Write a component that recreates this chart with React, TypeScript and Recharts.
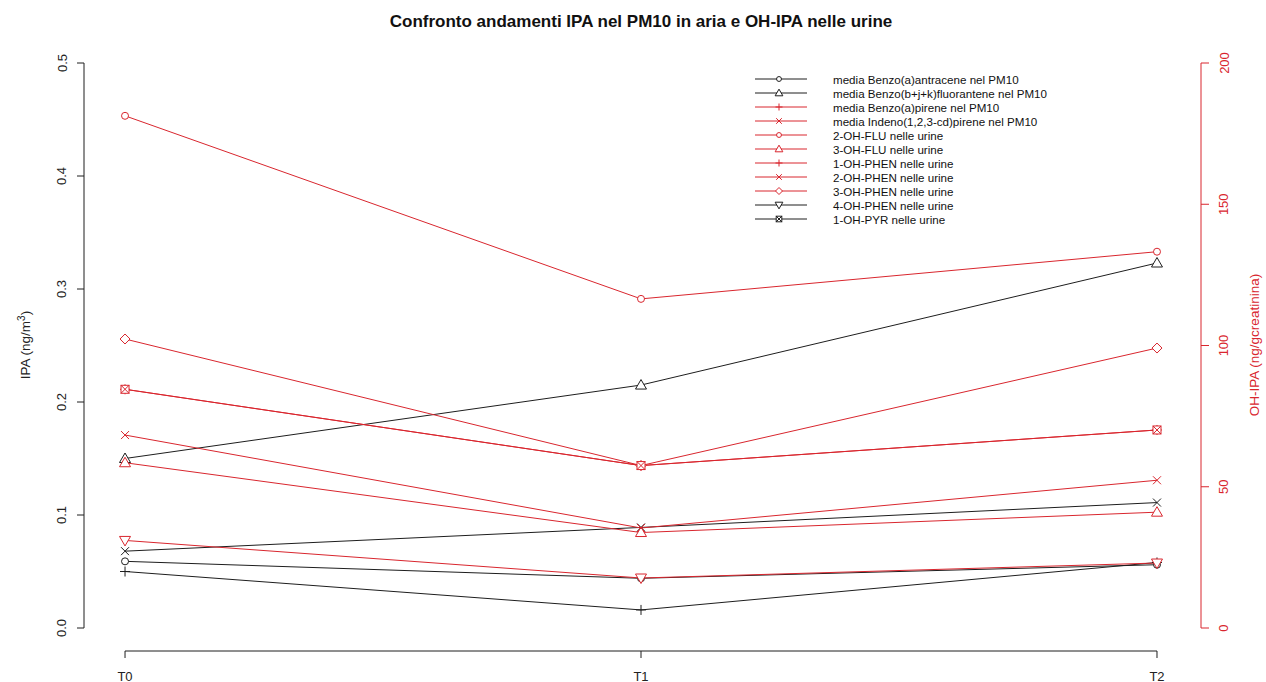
import React from "react";
import { LineChart, Line, XAxis, YAxis, ReferenceLine } from "recharts";

// time points
const T_LABELS = ["T0", "T1", "T2"];

// IPA in PM10 (left axis, ng/m3)
const benzoAntracene = [0.059, 0.044, 0.056];
const benzoFluorantene = [0.15, 0.215, 0.323];
const benzoPirene = [0.05, 0.016, 0.058];
const indenoPirene = [0.068, 0.089, 0.111];

// OH-IPA in urine (right axis, ng/g creatinina)
const ohFlu2 = [181.3, 116.5, 133.2];
const ohFlu3 = [58.5, 33.8, 41];
const ohPhen1 = [84.5, 57.5, 70.1];
const ohPhen2 = [68.3, 35.4, 52.3];
const ohPhen3 = [102.3, 57.5, 99.1];
const ohPhen4 = [31, 17.7, 23];
const ohPyr1 = [84.5, 57.5, 70.1];

const LEFT_TICKS = [0, 0.1, 0.2, 0.3, 0.4, 0.5];
const RIGHT_TICKS = [0, 50, 100, 150, 200];

const RED = "#d9262e";
const BLACK = "#1e1e1e";
const FONT = "'Liberation Sans', Arial, sans-serif";

// plot geometry (R-style detached axes)
const X_MIN = -0.0795;
const X_MAX = 2.0853;
const L_MIN = -0.02035;
const R_MIN = -8.14;

type Shape = "circle" | "triangle" | "plus" | "cross" | "diamond" | "down" | "square";

const series: {
  key: string;
  name: string;
  values: number[];
  axis: "left" | "right";
  color: string;
  shape: Shape;
  legendColor: string;
  legendShape: Shape;
}[] = [
  { key: "bAnt", name: "media Benzo(a)antracene nel PM10", values: benzoAntracene, axis: "left", color: BLACK, shape: "circle", legendColor: BLACK, legendShape: "circle" },
  { key: "bFlu", name: "media Benzo(b+j+k)fluorantene nel PM10", values: benzoFluorantene, axis: "left", color: BLACK, shape: "triangle", legendColor: BLACK, legendShape: "triangle" },
  { key: "bPir", name: "media Benzo(a)pirene nel PM10", values: benzoPirene, axis: "left", color: BLACK, shape: "plus", legendColor: RED, legendShape: "plus" },
  { key: "iPir", name: "media Indeno(1,2,3-cd)pirene nel PM10", values: indenoPirene, axis: "left", color: BLACK, shape: "cross", legendColor: RED, legendShape: "cross" },
  { key: "flu2", name: "2-OH-FLU nelle urine", values: ohFlu2, axis: "right", color: RED, shape: "circle", legendColor: RED, legendShape: "circle" },
  { key: "flu3", name: "3-OH-FLU nelle urine", values: ohFlu3, axis: "right", color: RED, shape: "triangle", legendColor: RED, legendShape: "triangle" },
  { key: "phen1", name: "1-OH-PHEN nelle urine", values: ohPhen1, axis: "right", color: RED, shape: "plus", legendColor: RED, legendShape: "plus" },
  { key: "phen2", name: "2-OH-PHEN nelle urine", values: ohPhen2, axis: "right", color: RED, shape: "cross", legendColor: RED, legendShape: "cross" },
  { key: "phen3", name: "3-OH-PHEN nelle urine", values: ohPhen3, axis: "right", color: RED, shape: "diamond", legendColor: RED, legendShape: "diamond" },
  { key: "phen4", name: "4-OH-PHEN nelle urine", values: ohPhen4, axis: "right", color: RED, shape: "down", legendColor: BLACK, legendShape: "down" },
  { key: "pyr1", name: "1-OH-PYR nelle urine", values: ohPyr1, axis: "right", color: RED, shape: "square", legendColor: BLACK, legendShape: "square" },
];

const data = T_LABELS.map((t, i) => {
  const row: Record<string, number | string> = { x: i, t };
  series.forEach((s) => (row[s.key] = s.values[i]));
  return row;
});

function Marker({ cx, cy, color, shape, s = 1 }: { cx: number; cy: number; color: string; shape: Shape; s?: number }) {
  const p = { fill: "white", stroke: color, strokeWidth: 1 };
  switch (shape) {
    case "circle":
      return <circle cx={cx} cy={cy} r={3.5 * s} {...p} />;
    case "triangle":
      return <polygon points={`${cx},${cy - 5.5 * s} ${cx - 5.5 * s},${cy + 4 * s} ${cx + 5.5 * s},${cy + 4 * s}`} {...p} />;
    case "down":
      return <polygon points={`${cx},${cy + 5.5 * s} ${cx - 5.5 * s},${cy - 4 * s} ${cx + 5.5 * s},${cy - 4 * s}`} {...p} />;
    case "diamond":
      return <polygon points={`${cx},${cy - 5 * s} ${cx + 5 * s},${cy} ${cx},${cy + 5 * s} ${cx - 5 * s},${cy}`} {...p} />;
    case "plus":
      return (
        <path d={`M${cx - 5 * s},${cy}H${cx + 5 * s}M${cx},${cy - 5 * s}V${cy + 5 * s}`} stroke={color} strokeWidth={1} fill="none" />
      );
    case "cross":
      return (
        <path
          d={`M${cx - 4 * s},${cy - 4 * s}L${cx + 4 * s},${cy + 4 * s}M${cx - 4 * s},${cy + 4 * s}L${cx + 4 * s},${cy - 4 * s}`}
          stroke={color}
          strokeWidth={1}
          fill="none"
        />
      );
    case "square":
      return (
        <g>
          <rect x={cx - 4 * s} y={cy - 4 * s} width={8 * s} height={8 * s} {...p} />
          <path
            d={`M${cx - 4 * s},${cy - 4 * s}L${cx + 4 * s},${cy + 4 * s}M${cx - 4 * s},${cy + 4 * s}L${cx + 4 * s},${cy - 4 * s}`}
            stroke={color}
            strokeWidth={1}
          />
        </g>
      );
  }
  return null;
}

const LeftTick = (props: any) => (
  <text
    x={62}
    y={props.y}
    transform={`rotate(-90, 62, ${props.y})`}
    textAnchor="middle"
    dominantBaseline="central"
    fontSize={13}
    fontFamily={FONT}
    fill="#222"
  >
    {props.payload.value.toFixed(1)}
  </text>
);

const RightTick = (props: any) => (
  <text
    x={1224}
    y={props.y}
    transform={`rotate(-90, 1224, ${props.y})`}
    textAnchor="middle"
    dominantBaseline="central"
    fontSize={13}
    fontFamily={FONT}
    fill={RED}
  >
    {props.payload.value}
  </text>
);

const XTick = (props: any) => (
  <text x={props.x} y={676} textAnchor="middle" dominantBaseline="central" fontSize={13} fontFamily={FONT} fill="#222">
    {T_LABELS[props.payload.value]}
  </text>
);

function LegendBox() {
  return (
    <svg width={320} height={160} style={{ position: "absolute", left: 740, top: 70 }}>
      {series.map((s, i) => {
        const y = 9 + i * 14;
        return (
          <g key={s.key}>
            <line x1={15} x2={67} y1={y} y2={y} stroke={s.legendColor} strokeWidth={1} />
            <Marker cx={39} cy={y} color={s.legendColor} shape={s.legendShape} s={0.7} />
            <text x={93} y={y} dominantBaseline="central" fontSize={11.6} fontFamily={FONT} fill="#111">
              {s.name}
            </text>
          </g>
        );
      })}
    </svg>
  );
}

export default function App() {
  return (
    <div style={{ position: "relative", width: 1266, height: 682, background: "white", overflow: "hidden" }}>
      <style>{"body{margin:0;overflow:hidden;}"}</style>
      <div
        style={{
          position: "absolute",
          top: 22,
          left: 641,
          transform: "translate(-50%, -50%)",
          whiteSpace: "nowrap",
          fontFamily: FONT,
          fontWeight: "bold",
          fontSize: 17,
          color: "#111",
        }}
      >
        Confronto andamenti IPA nel PM10 in aria e OH-IPA nelle urine
      </div>
      <div
        style={{
          position: "absolute",
          left: 26,
          top: 345,
          transform: "translate(-50%, -50%) rotate(-90deg)",
          whiteSpace: "nowrap",
          fontFamily: FONT,
          fontSize: 13.5,
          lineHeight: "16px",
          color: "#222",
        }}
      >
        IPA (ng/m<sup style={{ fontSize: 10, lineHeight: 0 }}>3</sup>)
      </div>
      <div
        style={{
          position: "absolute",
          left: 1255,
          top: 345,
          transform: "translate(-50%, -50%) rotate(-90deg)",
          whiteSpace: "nowrap",
          fontFamily: FONT,
          fontSize: 13.5,
          lineHeight: "16px",
          color: RED,
        }}
      >
        OH-IPA (ng/gcreatinina)
      </div>
      <LineChart width={1266} height={682} data={data} margin={{ top: 63, right: 5, bottom: 1, left: 24 }}>
        <XAxis
          dataKey="x"
          type="number"
          domain={[X_MIN, X_MAX]}
          ticks={[0, 1, 2]}
          allowDataOverflow
          axisLine={false}
          tickLine={{ stroke: BLACK }}
          tickSize={7}
          height={30}
          tick={<XTick />}
        />
        <YAxis
          yAxisId="left"
          orientation="left"
          domain={[L_MIN, 0.5]}
          ticks={LEFT_TICKS}
          allowDataOverflow
          axisLine={false}
          tickLine={{ stroke: BLACK }}
          tickSize={7}
          width={60}
          tick={<LeftTick />}
        />
        <YAxis
          yAxisId="right"
          orientation="right"
          domain={[R_MIN, 200]}
          ticks={RIGHT_TICKS}
          allowDataOverflow
          axisLine={false}
          tickLine={{ stroke: RED }}
          tickSize={8}
          width={60}
          tick={<RightTick />}
        />
        <ReferenceLine
          yAxisId="left"
          segment={[{ x: X_MIN, y: 0 }, { x: X_MIN, y: 0.5 }]}
          stroke={BLACK}
          ifOverflow="visible"
        />
        <ReferenceLine
          yAxisId="left"
          segment={[{ x: 0, y: L_MIN }, { x: 2, y: L_MIN }]}
          stroke={BLACK}
          ifOverflow="visible"
        />
        <ReferenceLine
          yAxisId="right"
          segment={[{ x: X_MAX, y: 0 }, { x: X_MAX, y: 200 }]}
          stroke={RED}
          ifOverflow="visible"
        />
        {series.map((s) => (
          <Line
            key={s.key}
            yAxisId={s.axis}
            dataKey={s.key}
            name={s.name}
            type="linear"
            stroke={s.color}
            strokeWidth={1}
            isAnimationActive={false}
            activeDot={false}
            dot={(p: any) => <Marker key={`${s.key}-${p.index}`} cx={p.cx} cy={p.cy} color={s.color} shape={s.shape} />}
          />
        ))}
      </LineChart>
      <LegendBox />
    </div>
  );
}
